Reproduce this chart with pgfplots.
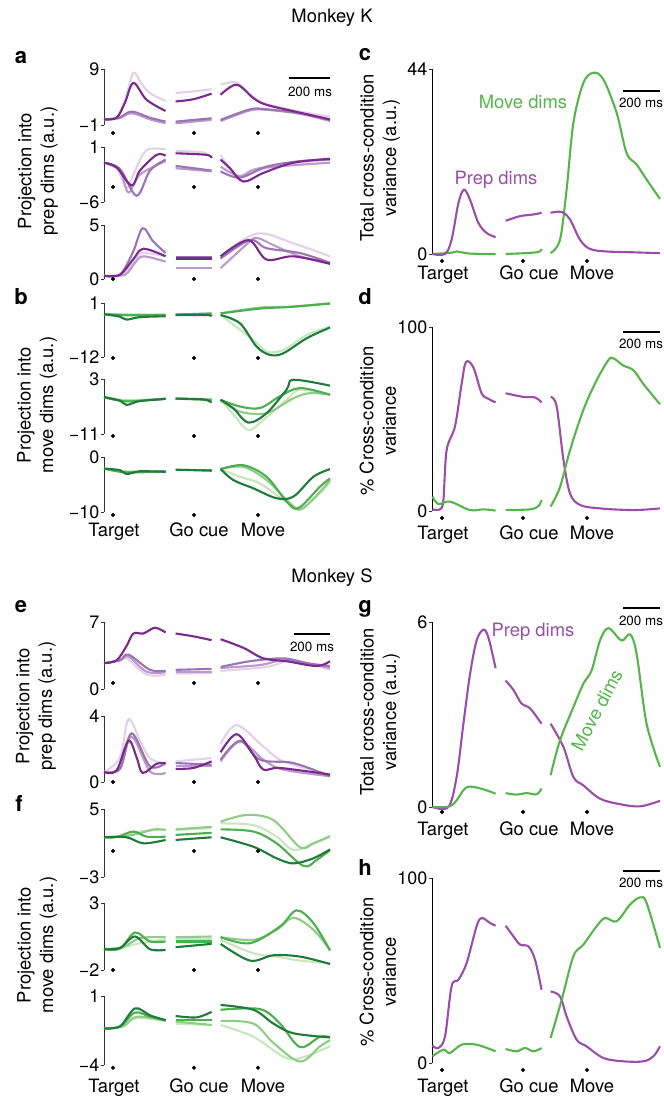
\documentclass[border=0pt]{standalone}
\usepackage{fontspec}
\setmainfont{TeX Gyre Heros}
\usepackage{pgfplots}
\pgfplotsset{compat=1.18}
\definecolor{pD}{HTML}{7B2A8C}
\definecolor{pM}{HTML}{9B74B4}
\definecolor{pL}{HTML}{B99ACB}
\definecolor{pV}{HTML}{E3D0E9}
\definecolor{gD}{HTML}{1E7B3A}
\definecolor{gM}{HTML}{4DAE50}
\definecolor{gL}{HTML}{8FCC85}
\definecolor{gV}{HTML}{C8E6BF}
\definecolor{prep}{HTML}{9B4DAA}
\definecolor{move}{HTML}{55B54A}
\newcommand\tfont{\fontsize{18}{21}\selectfont}
\newcommand\lfont{\fontsize{18.4}{22.5}\selectfont}
\newcommand\sfont{\fontsize{13.4}{15}\selectfont}
\newcommand\bfont{\fontsize{22}{24}\selectfont\bfseries}
\newcommand\sg[2]{\addplot[#1] coordinates {#2};}
\newcommand\evdots[1]{\addplot[only marks, mark=*, mark size=1.9pt, line width=0.4pt, black] coordinates {(0,#1)(405,#1)(725,#1)};}
\pgfplotsset{
 pan/.style={scale only axis, clip=false, anchor=south west,
   axis x line=none, axis y line=left, xtick=\empty,
   axis line style={-, line width=0.9pt, black!80},
   tick align=outside, major tick length=3pt, ytick style={line width=0.9pt, black!80},
   yticklabel style={font=\tfont, inner xsep=1.5pt},
   every axis plot/.append style={line width=2.1pt, smooth, tension=0.55}},
 L/.style={pan, xmin=-45, xmax=1090, width=227pt},
 R/.style={pan, xmin=-50, xmax=1090, width=228pt},
}
\begin{document}
\begin{tikzpicture}
\useasboundingbox (0,0) rectangle (664pt,1096pt);
% ---------------- panel a ----------------
\begin{axis}[L, at={(104pt,971pt)}, height=56pt, ymin=-1, ymax=9, ytick={-1,9}, yticklabels={−1,9}]
\sg{pV}{(-45,0)(18,0.3)(60,3.5)(102,8.3)(140,6.5)(185,4.7)(263,3.3)}
\sg{pV}{(313,4.7)(402,5.0)(493,5.4)}
\sg{pV}{(538,6.2)(618,6.6)(685,4.5)(752,2.9)(935,1.4)(1085,0.5)}
\sg{pL}{(-45,0)(30,0.2)(93,1.1)(185,0)(263,-0.7)}
\sg{pL}{(313,-0.7)(493,-0.1)}
\sg{pL}{(538,-0.3)(685,1.6)(768,1.7)(935,1.0)(1085,-0.3)}
\sg{pM}{(-45,0)(30,0.3)(93,1.4)(185,0.3)(263,-0.4)}
\sg{pM}{(313,-0.4)(493,0.2)}
\sg{pM}{(538,-0.1)(685,1.8)(768,1.8)(935,1.1)(1085,-0.1)}
\sg{pD}{(-45,0)(18,0.3)(60,3)(102,6.5)(168,3.5)(263,1.5)}
\sg{pD}{(313,3.2)(402,3.6)(493,4.6)}
\sg{pD}{(538,4.4)(618,6.2)(702,3.8)(768,2.6)(935,1.2)(1085,0)}
\evdots{-2.43}
\end{axis}
\begin{axis}[L, at={(104pt,894pt)}, height=55pt, ymin=-6, ymax=1, ytick={-6,1}, yticklabels={−6,1}]
\sg{pV}{(-45,-1)(18,-1.6)(68,-4.2)(110,-2)(168,0.6)(263,0.7)}
\sg{pV}{(313,0.5)(452,0.3)(493,-0.4)}
\sg{pV}{(538,0.0)(618,-2.7)(702,-2.2)(852,-1.2)(1085,-0.6)}
\sg{pL}{(-45,-1)(35,-2)(77,-4.8)(135,-2.5)(263,-0.8)}
\sg{pL}{(313,-1.7)(493,-2.1)}
\sg{pL}{(538,-1.5)(635,-2.7)(735,-1.7)(1085,-1.0)}
\sg{pM}{(-45,-1)(35,-1.8)(118,-5.2)(185,-2)(263,-0.6)}
\sg{pM}{(313,-1.4)(493,-2.0)}
\sg{pM}{(538,-2.1)(635,-2.9)(768,-1.5)(935,-0.8)(1085,-0.6)}
\sg{pD}{(-45,-1)(18,-1.6)(93,-3.9)(135,-2)(218,0)(263,-0.1)}
\sg{pD}{(313,0.2)(468,0.0)(493,-0.4)}
\sg{pD}{(538,-0.6)(585,-1.7)(652,-3.4)(752,-2.3)(902,-1.0)(1085,-0.5)}
\evdots{-4.09}
\end{axis}
\begin{axis}[L, at={(104pt,817pt)}, height=54pt, ymin=0, ymax=5, ytick={0,5}, yticklabels={0,5}]
\sg{pV}{(-45,0.3)(50,0.4)(110,1.8)(152,2.4)(263,2.1)}
\sg{pV}{(313,2.0)(493,2.0)}
\sg{pV}{(538,2.1)(718,4.2)(902,3.3)(1085,2.1)}
\sg{pL}{(-45,0.3)(60,0.4)(110,1.5)(152,2.1)(263,1.6)}
\sg{pL}{(313,1.0)(493,1.0)}
\sg{pL}{(538,1.0)(668,3.2)(718,3.8)(818,3.0)(935,2.1)(1085,1.5)}
\sg{pM}{(-45,0.3)(35,0.4)(100,2.5)(148,4.7)(200,3.5)(263,2.4)}
\sg{pM}{(313,2.0)(493,2.0)}
\sg{pM}{(538,1.9)(685,3.6)(768,2.85)(935,2.4)(1085,1.5)}
\sg{pD}{(-45,0.3)(35,0.4)(100,1.8)(152,2.8)(263,2.1)}
\sg{pD}{(313,1.9)(493,1.9)}
\sg{pD}{(538,2.1)(677,3.6)(768,1.8)(902,2.1)(1085,1.4)}
\evdots{0}
\end{axis}
% ---------------- panel b ----------------
\begin{axis}[L, at={(104pt,739pt)}, height=54pt, ymin=-12, ymax=1, ytick={-12,1}, yticklabels={−12,1}]
\sg{gV}{(-45,-1.7)(68,-2)(263,-1.9)}
\sg{gV}{(313,-1.9)(493,-1.7)}
\sg{gV}{(538,-1.9)(702,-7.9)(768,-10.7)(852,-10.3)(968,-6.7)(1085,-4.7)}
\sg{gL}{(-45,-1.7)(68,-1.8)(263,-1.8)}
\sg{gL}{(313,-1.8)(493,-1.6)}
\sg{gL}{(538,-1.5)(735,-0.1)(885,0.1)(1085,0.95)}
\sg{gM}{(-45,-1.7)(68,-1.9)(263,-1.9)}
\sg{gM}{(313,-1.8)(493,-1.5)}
\sg{gM}{(538,-1.5)(735,-0.35)(885,0.05)(1085,0.85)}
\sg{gD}{(-45,-1.7)(35,-2.3)(68,-3.0)(135,-2.4)(263,-2.2)}
\sg{gD}{(313,-1.9)(468,-1.9)(493,-2.2)}
\sg{gD}{(538,-1.9)(635,-3.9)(718,-9.5)(785,-11.5)(852,-11.1)(968,-7.5)(1085,-4.9)}
\evdots{-12.25}
\end{axis}
\begin{axis}[L, at={(104pt,662pt)}, height=55pt, ymin=-11, ymax=3, ytick={-11,3}, yticklabels={−11,3}]
\sg{gV}{(-45,-1.6)(68,-2.4)(263,-2.0)}
\sg{gV}{(313,-2.0)(493,-2.2)}
\sg{gV}{(538,-2.3)(602,-6)(677,-10.0)(752,-7.4)(868,-2.3)(935,0.3)(1085,-1.0)}
\sg{gL}{(-45,-1.6)(68,-2.6)(263,-2.0)}
\sg{gL}{(313,-2.0)(493,-2.3)}
\sg{gL}{(538,-2.3)(635,-5.3)(768,-5.7)(902,-1.9)(985,-0.6)(1085,-1.0)}
\sg{gM}{(-45,-1.6)(68,-2.7)(263,-2.0)}
\sg{gM}{(313,-2.0)(493,-2.3)}
\sg{gM}{(538,-2.3)(635,-4.0)(735,-4.4)(835,-1.4)(935,0.7)(1085,-1.0)}
\sg{gD}{(-45,-1.6)(35,-2.5)(68,-3.6)(135,-2.6)(263,-2.1)}
\sg{gD}{(313,-2.0)(452,-2.2)(493,-3.0)}
\sg{gD}{(538,-2.3)(602,-4.5)(677,-8.1)(768,-5.7)(868,0.3)(902,2.8)(1085,1.3)}
\evdots{-11.5}
\end{axis}
\begin{axis}[L, at={(104pt,584pt)}, height=55pt, ymin=-10, ymax=0, ytick={-10,0}, yticklabels={−10,0}]
\sg{gV}{(-45,-2.1)(68,-2.6)(263,-2.6)}
\sg{gV}{(313,-2.3)(493,-2.4)}
\sg{gV}{(538,-2.2)(635,-3.6)(735,-4.8)(852,-7.8)(935,-9.3)(1035,-6.6)(1085,-4.5)}
\sg{gL}{(-45,-2.1)(68,-2.7)(263,-2.6)}
\sg{gL}{(313,-2.3)(493,-2.3)}
\sg{gL}{(538,-2.2)(652,-1.8)(768,-4.2)(885,-8.4)(943,-9.5)(1043,-6)(1085,-4.2)}
\sg{gM}{(-45,-2.1)(68,-2.8)(263,-2.6)}
\sg{gM}{(313,-2.3)(493,-2.3)}
\sg{gM}{(538,-2.2)(652,-1.5)(768,-3.6)(868,-8.1)(927,-9.3)(1035,-5.4)(1085,-3.9)}
\sg{gD}{(-45,-2.1)(35,-2.4)(68,-3.1)(135,-2.6)(263,-2.7)}
\sg{gD}{(313,-2.3)(493,-2.5)}
\sg{gD}{(538,-2.2)(602,-4.2)(702,-5.7)(818,-7.5)(902,-7.2)(1002,-3.6)(1085,-2.2)}
\evdots{-10.55}
\end{axis}
% ---------------- panel e ----------------
\begin{axis}[L, at={(104pt,407pt)}, height=67pt, ymin=0, ymax=7, ytick={0,7}, yticklabels={0,7}]
\sg{pV}{(-45,2.7)(35,3.0)(68,3.2)(168,1.5)(263,1.5)}
\sg{pV}{(313,1.6)(493,1.65)}
\sg{pV}{(538,1.9)(768,2.3)(902,3.0)(1085,2.0)}
\sg{pL}{(-45,2.7)(35,3.0)(77,3.4)(168,1.8)(263,1.75)}
\sg{pL}{(313,1.8)(493,1.8)}
\sg{pL}{(538,2.2)(735,2.5)(868,3.0)(1085,2.2)}
\sg{pM}{(-45,2.7)(35,3.0)(77,3.6)(185,2.0)(263,1.9)}
\sg{pM}{(313,2.0)(493,2.1)}
\sg{pM}{(538,2.3)(685,2.9)(852,3.2)(968,2.7)(1085,2.4)}
\sg{pD}{(-45,2.7)(18,3.0)(68,4.5)(102,5.8)(152,5.8)(210,6.4)(263,5.9)}
\sg{pD}{(313,5.8)(402,5.5)(493,5.1)}
\sg{pD}{(538,5.2)(652,4.3)(752,3.2)(868,2.9)(1018,2.4)(1085,2.9)}
\evdots{0.63}
\end{axis}
\begin{axis}[L, at={(104pt,314pt)}, height=66pt, ymin=0, ymax=4, ytick={0,4}, yticklabels={0,4}]
\sg{pV}{(-45,0.6)(35,1.5)(77,3.8)(135,2.5)(185,1.45)(263,1.05)}
\sg{pV}{(313,1.25)(493,1.45)}
\sg{pV}{(538,2.3)(618,3.45)(752,2.15)(852,1.25)(1085,0.45)}
\sg{pL}{(-45,0.6)(35,0.8)(93,2.75)(185,0.65)(263,0.55)}
\sg{pL}{(313,0.95)(493,0.95)}
\sg{pL}{(538,1.25)(635,2.45)(752,1.35)(852,0.75)(1085,0.35)}
\sg{pM}{(-45,0.6)(35,0.8)(93,2.95)(185,0.95)(263,1.15)}
\sg{pM}{(313,1.15)(493,1.05)}
\sg{pM}{(538,1.35)(635,2.5)(735,1.35)(902,1.15)(1085,0.35)}
\sg{pD}{(-45,0.6)(18,0.7)(77,2.5)(118,1.5)(148,0.55)(218,1.1)(263,1.15)}
\sg{pD}{(313,0.8)(402,0.85)(493,1.25)}
\sg{pD}{(538,1.8)(618,2.9)(702,1.65)(752,0.75)(835,0.85)(1085,0.45)}
\evdots{0}
\end{axis}
% ---------------- panel f ----------------
\begin{axis}[L, at={(104pt,219pt)}, height=68pt, ymin=-3, ymax=5, ytick={-3,5}, yticklabels={−3,5}]
\sg{gV}{(-45,1.67)(60,1.9)(135,2.35)(263,2.6)}
\sg{gV}{(313,2.55)(493,2.75)}
\sg{gV}{(538,3.3)(702,3.1)(818,1.75)(902,0.17)(1002,0.96)(1085,1.75)}
\sg{gL}{(-45,1.67)(60,1.8)(135,2.15)(202,2.6)(263,2.55)}
\sg{gL}{(313,2.6)(493,2.9)}
\sg{gL}{(538,3.5)(668,4.3)(802,3.7)(935,0.5)(1002,0.96)(1085,1.8)}
\sg{gM}{(-45,1.67)(18,1.7)(102,2.35)(168,1.75)(263,1.75)}
\sg{gM}{(313,1.95)(493,2.2)}
\sg{gM}{(538,2.6)(702,2.35)(818,0.96)(952,-1.7)(1018,-1.0)(1085,0.17)}
\sg{gD}{(-45,1.67)(68,1.67)(152,0.96)(263,1.36)}
\sg{gD}{(313,1.36)(493,1.67)}
\sg{gD}{(538,1.67)(702,0.56)(818,-0.8)(902,-1.4)(1002,-0.8)(1085,0.25)}
\evdots{0.06}
\end{axis}
\begin{axis}[L, at={(104pt,126pt)}, height=67pt, ymin=-2, ymax=3, ytick={-2,3}, yticklabels={−2,3}]
\sg{gV}{(-45,-0.45)(50,-0.3)(135,0.0)(263,0.3)}
\sg{gV}{(313,0.3)(493,0.3)}
\sg{gV}{(538,0.25)(702,-0.75)(818,-1.0)(935,-1.3)(1085,-1.5)}
\sg{gL}{(-45,-0.45)(50,-0.3)(135,0.38)(263,0.45)}
\sg{gL}{(313,0.45)(493,0.5)}
\sg{gL}{(538,0.45)(702,0.25)(818,1.0)(902,1.9)(1002,1.0)(1085,-0.5)}
\sg{gM}{(-45,-0.45)(35,-0.4)(110,0.8)(185,0.13)(263,0.13)}
\sg{gM}{(313,0.13)(493,0.13)}
\sg{gM}{(538,0.45)(685,0)(835,1.25)(918,2.45)(1002,1.5)(1085,-0.55)}
\sg{gD}{(-45,-0.45)(35,-0.35)(110,0.5)(185,-0.45)(263,-0.5)}
\sg{gD}{(313,-0.3)(493,-0.05)}
\sg{gD}{(538,-0.05)(685,-1.3)(802,-0.9)(935,-1.0)(1085,-1.55)}
\evdots{-2}
\end{axis}
\begin{axis}[L, at={(104pt,31pt)}, height=69pt, ymin=-4, ymax=1, ytick={-4,1}, yticklabels={−4,1}]
\sg{gV}{(-45,-1.35)(50,-1.2)(118,-0.6)(263,-0.8)}
\sg{gV}{(313,-1.0)(493,-1.1)}
\sg{gV}{(538,-1.1)(702,-1.95)(852,-3.4)(935,-3.5)(1085,-2.65)}
\sg{gL}{(-45,-1.35)(50,-1.2)(118,-0.5)(263,-0.8)}
\sg{gL}{(313,-0.85)(493,-1.1)}
\sg{gL}{(538,-0.8)(702,-1.0)(802,-2.4)(935,-3.75)(1035,-2.65)(1085,-2.2)}
\sg{gM}{(-45,-1.35)(35,-1.2)(110,-0.2)(185,-0.5)(263,-0.75)}
\sg{gM}{(313,-0.75)(493,-0.75)}
\sg{gM}{(538,0.0)(735,0.05)(835,-1.0)(935,-2.7)(1035,-1.95)(1085,-2.0)}
\sg{gD}{(-45,-1.35)(35,-1.2)(110,0.1)(185,-0.4)(263,-0.75)}
\sg{gD}{(313,-0.45)(418,-0.55)(493,-0.15)}
\sg{gD}{(538,0.35)(702,0)(802,-1.0)(902,-1.7)(1085,-2.0)}
\evdots{-4.2}
\end{axis}
% ---------------- panel c ----------------
\begin{axis}[R, at={(432pt,842pt)}, height=185pt, ymin=0, ymax=44, ytick={0,44}, yticklabels={0,44}, axis line style={-, line width=0.9pt, black}]
\sg{move}{(-48,0)(48,0.3)(73,0.6)(140,0.1)(268,0)}
\sg{move}{(318,0)(473,0.4)(498,1.2)}
\sg{move}{(543,0.2)(590,3.4)(623,15.3)(657,31.2)(707,40.7)(757,43.1)(807,41.5)(873,33.6)(923,24)(973,21.3)(1023,17.7)(1090,13.1)}
\sg{prep}{(-48,0)(15,0)(48,3.4)(82,12.1)(110,15.3)(140,12.9)(182,7.4)(223,5.0)(268,4.0)}
\sg{prep}{(318,7.9)(390,9.0)(457,9.4)(498,9.8)}
\sg{prep}{(543,9.8)(598,10.0)(640,8.2)(690,3.4)(740,1.2)(823,0.6)(957,0.4)(1090,0.2)}
\evdots{-1.66}
\end{axis}
% ---------------- panel d ----------------
\begin{axis}[R, at={(432pt,585pt)}, height=184pt, ymin=0, ymax=100, ytick={0,100}, yticklabels={0,100}, axis line style={-, line width=0.9pt, black}]
\sg{prep}{(-48,0.9)(-10,0.9)(7,6)(23,33)(65,46)(98,69)(120,81)(157,78)(198,64)(232,61)(268,59)}
\sg{prep}{(318,64)(407,62)(465,61.7)(498,59)}
\sg{prep}{(543,62)(573,57)(607,28)(640,9.6)(690,3.3)(790,1.4)(957,0.5)(1090,1.4)}
\sg{move}{(-48,7.8)(-18,3.8)(40,5.1)(140,0.5)(207,0.9)(268,0.2)}
\sg{move}{(318,0.5)(440,0.9)(482,2.7)(498,6)}
\sg{move}{(543,2.4)(590,13)(640,33)(707,55)(773,71)(832,82)(857,83)(907,79)(957,76.5)(1007,69)(1090,58)}
\evdots{-3.8}
\end{axis}
% ---------------- panel g ----------------
\begin{axis}[R, at={(432pt,289pt)}, height=185pt, ymin=0, ymax=6, ytick={0,6}, yticklabels={0,6}, axis line style={-, line width=0.9pt, black}]
\sg{prep}{(-48,0)(32,0)(73,0.97)(107,2.7)(140,4.3)(173,5.4)(207,5.75)(232,5.5)(268,4.5)}
\sg{prep}{(318,4.1)(357,3.8)(398,3.35)(440,3.2)(498,2.7)}
\sg{prep}{(543,2.7)(607,1.95)(657,0.97)(707,0.7)(790,0.27)(890,0.09)(990,0.02)(1090,0.2)}
\sg{move}{(-48,0)(48,0.05)(115,0.6)(157,0.65)(223,0.54)(268,0.43)}
\sg{move}{(318,0.45)(373,0.4)(423,0.45)(473,0.41)(498,0.6)}
\sg{move}{(543,1.03)(590,2.16)(657,3.24)(707,4.0)(748,4.43)(790,5.4)(832,5.8)(898,5.4)(940,5.6)(973,4.97)(1023,2.7)(1090,1.3)}
\evdots{-0.16}
\end{axis}
% ---------------- panel h ----------------
\begin{axis}[R, at={(432pt,33pt)}, height=185pt, ymin=0, ymax=100, ytick={0,100}, yticklabels={0,100}, axis line style={-, line width=0.9pt, black}]
\sg{prep}{(-48,9.4)(-18,8.1)(15,14.4)(48,41.4)(82,45)(123,54)(173,73.9)(198,78.4)(240,75.7)(268,74.2)}
\sg{prep}{(318,74.2)(357,68.5)(390,64)(432,63)(465,55.9)(498,39.6)}
\sg{prep}{(543,38.7)(590,36)(623,25.2)(673,12.6)(723,9)(807,2.7)(907,0.9)(1007,0.9)(1057,3.6)(1090,9)}
\sg{move}{(-48,3.6)(7,7.2)(40,5.4)(98,9.9)(173,9.9)(268,6.3)}
\sg{move}{(318,7.6)(373,6.3)(415,8.1)(457,6.3)(498,8.1)}
\sg{move}{(543,13.5)(598,34)(657,57.7)(707,64)(773,73.9)(815,78.4)(873,76.6)(940,85.6)(990,89.5)(1023,86.5)(1090,62.2)}
\evdots{-3.8}
\end{axis}
% ---------------- annotations ----------------
\node[font=\lfont] at (332pt,1078pt) {Monkey K};
\node[font=\lfont] at (332pt,518pt) {Monkey S};
\foreach \l/\x/\y in {a/21/1038, b/21/799, c/365/1041, d/365/799, e/21/489, f/19/293, g/365/487, h/365/229}
  \node[font=\bfont] at (\x pt,\y pt) {\l};
\node[font=\lfont, rotate=90, align=center] at (38pt,925pt) {Projection into\\prep dims (a.u.)};
\node[font=\lfont, rotate=90, align=center] at (37pt,691pt) {Projection into\\move dims (a.u.)};
\node[font=\lfont, rotate=90, align=center] at (36pt,390pt) {Projection into\\prep dims (a.u.)};
\node[font=\lfont, rotate=90, align=center] at (37pt,151pt) {Projection into\\move dims (a.u.)};
\node[font=\lfont, rotate=90, align=center] at (380pt,938pt) {Total cross-condition\\variance (a.u.)};
\node[font=\lfont, rotate=90, align=center] at (378pt,675pt) {\% Cross-condition\\variance};
\node[font=\lfont, rotate=90, align=center] at (380pt,384pt) {Total cross-condition\\variance (a.u.)};
\node[font=\lfont, rotate=90, align=center] at (378pt,124pt) {\% Cross-condition\\variance};
% event labels
\foreach \y in {559, 4} {
  \node[font=\lfont, anchor=base] at (114pt,\y pt) {Target};
  \node[font=\lfont, anchor=base] at (199pt,\y pt) {Go cue};
  \node[font=\lfont, anchor=base] at (263pt,\y pt) {Move};
}
\foreach \y in {816, 556, 260, 4} {
  \node[font=\lfont, anchor=base] at (443pt,\y pt) {Target};
  \node[font=\lfont, anchor=base] at (529pt,\y pt) {Go cue};
  \node[font=\lfont, anchor=base] at (592pt,\y pt) {Move};
}
% series labels
\node[font=\lfont, text=move] at (523pt,994pt) {Move dims};
\node[font=\lfont, text=prep] at (496pt,916pt) {Prep dims};
\node[font=\lfont, text=prep] at (533pt,464pt) {Prep dims};
\node[font=\lfont, text=move, rotate=62] at (597pt,386pt) {Move dims};
% scale bars
\foreach \xa/\xb/\y/\xt/\yt in {289/330/1018/310/1004, 623/660/1005/641/993, 623/660/764/641/752, 294/330/462/312/449, 623/660/488/641/475, 623/660/225/641/213} {
  \draw[line width=2pt] (\xa pt,\y pt) -- (\xb pt,\y pt);
  \node[font=\sfont] at (\xt pt,\yt pt) {200 ms};
}
\end{tikzpicture}
\end{document}
